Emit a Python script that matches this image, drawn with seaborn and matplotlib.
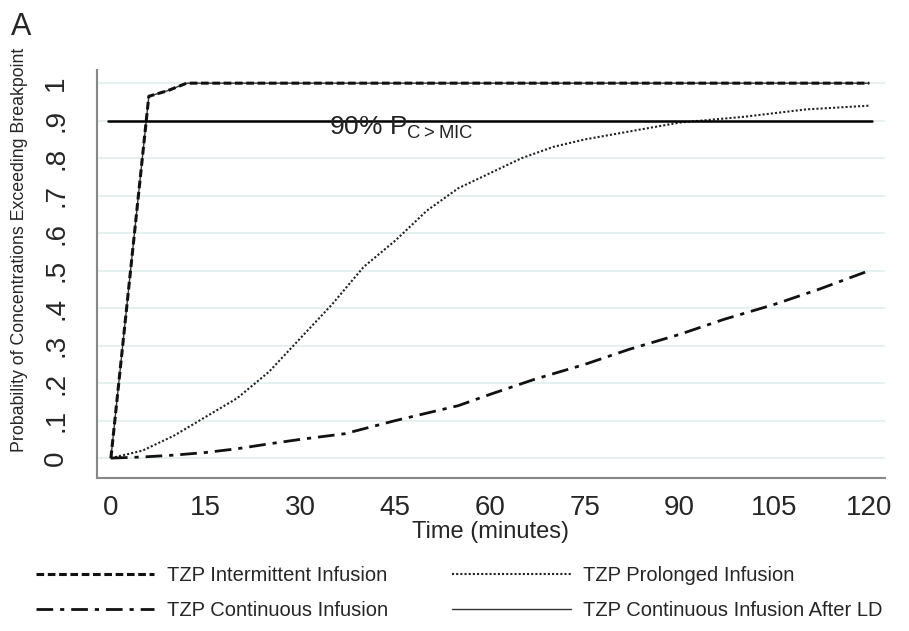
import matplotlib
matplotlib.use("Agg")
import matplotlib.pyplot as plt
import seaborn as sns

# values
t_intermittent = [0, 6, 9, 12, 30, 60, 90, 120]
p_intermittent = [0, 0.965, 0.98, 1.0, 1.0, 1.0, 1.0, 1.0]

t_prolonged = [0, 5, 10, 15, 20, 25, 30, 35, 40, 45, 50, 55, 60, 65, 70, 75, 80, 90, 100, 105, 110, 120]
p_prolonged = [0, 0.02, 0.06, 0.11, 0.16, 0.23, 0.32, 0.41, 0.51, 0.58, 0.66, 0.72, 0.76, 0.80, 0.83, 0.85, 0.865,
               0.895, 0.91, 0.92, 0.93, 0.94]

t_continuous = [0, 5, 10, 15, 20, 25, 30, 37, 45, 50, 55, 60, 67, 75, 82, 90, 97, 105, 112, 120]
p_continuous = [0, 0.003, 0.008, 0.015, 0.025, 0.038, 0.05, 0.065, 0.10, 0.12, 0.14, 0.17, 0.21, 0.25, 0.29, 0.33,
                0.37, 0.41, 0.45, 0.50]

t_after_ld = [0, 6, 9, 12, 30, 60, 90, 120]
p_after_ld = [0, 0.965, 0.98, 1.0, 1.0, 1.0, 1.0, 1.0]

threshold = 0.9
x_ticks = [0, 15, 30, 45, 60, 75, 90, 105, 120]
y_ticks = [0, .1, .2, .3, .4, .5, .6, .7, .8, .9, 1]
y_ticklabels = ["0", ".1", ".2", ".3", ".4", ".5", ".6", ".7", ".8", ".9", "1"]

sns.set_style("white")
plt.rcParams["font.family"] = ["Liberation Sans Narrow", "Liberation Sans", "DejaVu Sans"]

fig = plt.figure(figsize=(9.09, 6.31), dpi=100)
ax = fig.add_axes([0.1067, 0.2425, 0.8669, 0.6465])

for yt in y_ticks:
    ax.axhline(yt, color="#e3eeee", lw=1.2, zorder=0)

sns.lineplot(x=t_after_ld, y=p_after_ld, ax=ax, color="#333333", lw=1.0,
             label="TZP Continuous Infusion After LD")
sns.lineplot(x=t_intermittent, y=p_intermittent, ax=ax, color="#111111", lw=2.2,
             label="TZP Intermittent Infusion")
ax.lines[-1].set_dashes((2.5, 1.2))
sns.lineplot(x=t_prolonged, y=p_prolonged, ax=ax, color="#222222", lw=1.5,
             label="TZP Prolonged Infusion")
ax.lines[-1].set_dashes((1, 1))
sns.lineplot(x=t_continuous, y=p_continuous, ax=ax, color="#111111", lw=2.0,
             label="TZP Continuous Infusion")
ax.lines[-1].set_dashes((6, 2.5, 1.5, 2.5))

ax.plot([-0.5, 120.5], [threshold, threshold], color="black", lw=1.8)
ax.text(34.5, 0.862, "90% P$_{\\mathregular{C > MIC}}$", fontsize=19, color="#222222")

ax.set_xlim(-2.2, 122.5)
ax.set_ylim(-0.053, 1.035)
ax.set_xticks(x_ticks)
ax.set_yticks(y_ticks)
ax.set_yticklabels(y_ticklabels, rotation=90, va="center")
ax.tick_params(axis="both", direction="out", length=6, width=1.2, color="#777777",
               labelsize=20)
ax.tick_params(axis="x", pad=6)
ax.tick_params(axis="y", pad=14)
for s in ["top", "right"]:
    ax.spines[s].set_visible(False)
for s in ["left", "bottom"]:
    ax.spines[s].set_color("#888888")
    ax.spines[s].set_linewidth(1.5)

ax.set_xlabel("Time (minutes)", fontsize=17, labelpad=0)
ax.set_ylabel("Probability of Concentrations Exceeding Breakpoint", fontsize=12.8)
ax.yaxis.set_label_coords(-0.088, 0.56)

handles, labels = ax.get_legend_handles_labels()
ax.get_legend().remove()
lookup = dict(zip(labels, handles))
order = ["TZP Intermittent Infusion", "TZP Continuous Infusion",
         "TZP Prolonged Infusion", "TZP Continuous Infusion After LD"]
fig.legend([lookup[k] for k in order], order, loc="lower center", ncol=2,
           bbox_to_anchor=(0.505, -0.012), frameon=False, fontsize=14.5,
           handlelength=5.9, columnspacing=3.2, labelspacing=0.8, handletextpad=0.6)

fig.text(0.012, 0.945, "A", fontsize=22)

fig.savefig("out.png", dpi=100)
